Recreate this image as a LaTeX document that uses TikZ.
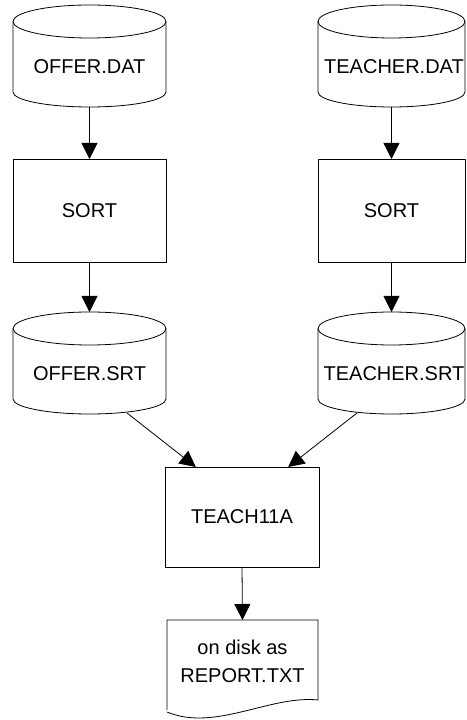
\documentclass[tikz,border=0pt]{standalone}
\usepackage{fontspec}
\setmainfont{Liberation Sans}
\usetikzlibrary{arrows.meta,calc}
\tikzset{
  shapebox/.style={draw=none,inner sep=0pt,outer sep=0pt,minimum width=#1},
  procbox/.style={draw,line width=0.8pt,inner sep=0pt,outer sep=0pt,minimum width=#1},
  lbl/.style={inner sep=0pt,font=\fontsize{20}{28}\selectfont,align=center},
  flow/.style={line width=0.8pt,-{Triangle[length=16pt,width=16pt]}},
  outline/.style={line width=0.8pt}
}
\newcommand\cylout[2]{%
  \draw[outline] ($(#1.north west)+(0,-16.5)$) -- ($(#1.south west)+(0,15)$)
    arc[start angle=180,end angle=360,x radius=#2,y radius=15]
    -- ($(#1.north east)+(0,-16.5)$);
  \draw[outline] ($(#1.north)+(0,-16.5)$) ellipse[x radius=#2,y radius=16.5];
}
\begin{document}
\begin{tikzpicture}[x=1pt,y=1pt]
\useasboundingbox (0,0) rectangle (466,720);
\clip (0,0) rectangle (466,720);
% left column
\node[shapebox=153pt,minimum height=102pt] (c1) at (89.5,664) {};
\cylout{c1}{76.5}
\node[lbl] (c1t) at (89.5,653) {OFFER.DAT};
\node[procbox=153pt,minimum height=103pt,lbl] (s1) at (89.5,509.5) {SORT};
\node[shapebox=153pt,minimum height=102pt] (c2) at (89.5,357) {};
\cylout{c2}{76.5}
\node[lbl] (c2t) at (89.5,346) {OFFER.SRT};
% right column
\node[shapebox=147pt,minimum height=102pt] (c3) at (391.5,664) {};
\cylout{c3}{73.5}
\node[lbl] (c3t) at (394,653) {TEACHER.DAT};
\node[procbox=147pt,minimum height=103pt,lbl] (s2) at (391.5,509.5) {SORT};
\node[shapebox=147pt,minimum height=102pt] (c4) at (391.5,357) {};
\cylout{c4}{73.5}
\node[lbl] (c4t) at (394,346) {TEACHER.SRT};
% program
\node[procbox=154pt,minimum height=100pt,lbl] (t) at (242,203) {TEACH11A};
% document
\node[shapebox=151pt,minimum height=82pt,lbl] (d) at (242.5,59) {on disk as\\REPORT.TXT};
\draw[outline] (d.south west) ++(0,-8) |- (d.north east) -- (318,20)
  .. controls (270,25) and (215,-12) .. (167,8);
% connectors
\coordinate (a1) at (127,307);
\coordinate (a2) at (357,307);
\coordinate (b1) at ($(t.north west)!0.2!(t.north east)$);
\coordinate (b2) at ($(t.north west)!0.8!(t.north east)$);
\draw[flow] (c1.south) -- (s1.north);
\draw[flow] (s1.south) -- (c2.north);
\draw[flow] (c3.south) -- (s2.north);
\draw[flow] (s2.south) -- (c4.north);
\draw[flow] (a1) -- (b1);
\draw[flow] (a2) -- (b2);
\draw[flow] (t.south) -- (d.north);
\end{tikzpicture}
\end{document}
